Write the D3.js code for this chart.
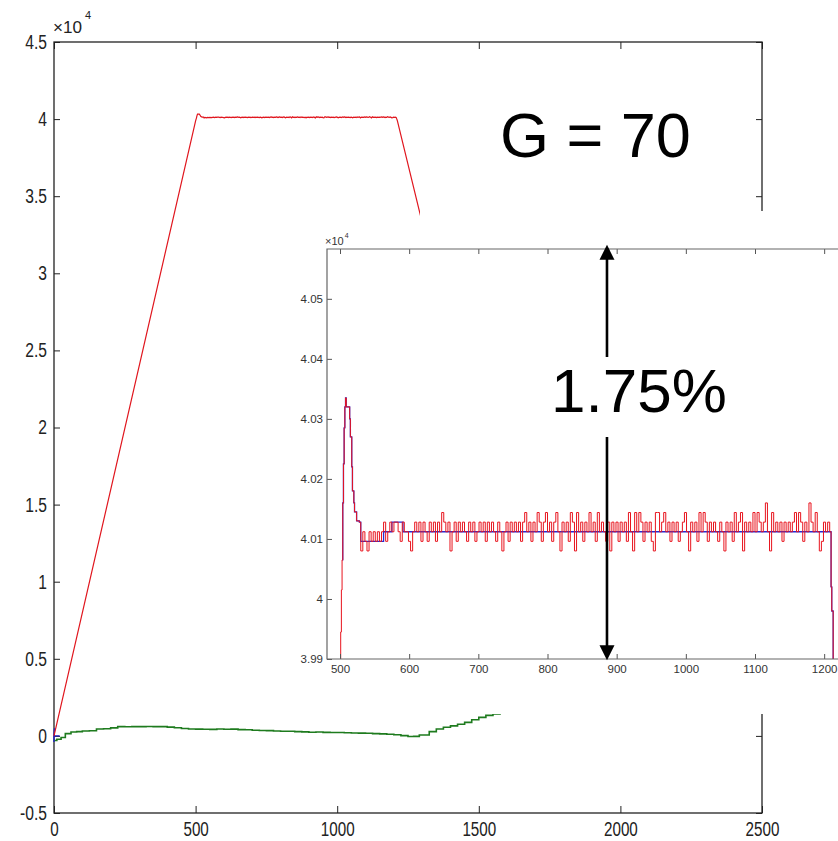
<!DOCTYPE html>
<meta charset="utf-8">
<style>
  body { margin: 0; background: #fff; }
  .lbl { font-family: "Liberation Sans", Arial, sans-serif; fill: #000; }
</style>
<svg width="838" height="841"></svg>
<script src="https://cdn.jsdelivr.net/npm/d3@7/dist/d3.min.js"></script>
<script>
// ---- data (raw values, axes show x10^4) ----
var xTicksMain = [0, 500, 1000, 1500, 2000, 2500];
var yTicksMain = [-5000, 0, 5000, 10000, 15000, 20000, 25000, 30000, 35000, 40000, 45000];
var xTicksInset = [500, 600, 700, 800, 900, 1000, 1100, 1200];
var yTicksInset = [39900, 40000, 40100, 40200, 40300, 40400, 40500];

// red: ramp, overshoot, then the noisy plateau, then the drop
var redRise = [[0, 0], [500, 39880], [501, 39945], [502, 40015], [503, 40065], [504, 40160],
  [505, 40225], [506, 40285], [507, 40320], [508, 40335], [509, 40320], [513, 40320],
  [514, 40300], [515, 40270], [517, 40220], [518, 40180], [520, 40160], [521, 40145],
  [524, 40130], [528, 40128]];
var redNoiseX = d3.range(530, 1209, 3);
var redNoise = [
  40080,40112,40096,40080,40112,40096,40112,40096,40112,40096,
  40112,40128,40096,40112,40128,40112,40128,40128,40112,40096,
  40128,40112,40112,40096,40080,40112,40128,40112,40128,40096,
  40128,40112,40096,40128,40112,40128,40096,40128,40112,40144,
  40128,40112,40128,40080,40112,40128,40096,40128,40112,40128,
  40112,40096,40128,40112,40128,40096,40112,40128,40112,40128,
  40096,40128,40112,40128,40112,40096,40128,40112,40080,40112,
  40128,40096,40128,40112,40128,40112,40128,40096,40128,40144,
  40112,40128,40096,40128,40112,40144,40128,40096,40128,40144,
  40112,40128,40096,40128,40144,40112,40080,40128,40112,40128,
  40096,40144,40128,40080,40144,40112,40128,40096,40128,40112,
  40144,40112,40128,40096,40144,40112,40128,40112,40096,40128,
  40080,40128,40112,40128,40096,40128,40112,40128,40096,40144,
  40112,40080,40144,40112,40144,40128,40096,40128,40112,40128,
  40096,40080,40144,40144,40112,40128,40144,40112,40128,40096,
  40128,40112,40128,40096,40112,40128,40144,40112,40080,40128,
  40112,40128,40096,40144,40112,40144,40128,40096,40128,40112,
  40128,40112,40096,40128,40112,40080,40128,40112,40128,40096,
  40144,40112,40128,40144,40080,40128,40112,40128,40112,40144,
  40112,40144,40128,40112,40128,40160,40112,40080,40144,40112,
  40128,40112,40128,40096,40128,40112,40128,40112,40128,40144,
  40112,40144,40128,40096,40128,40112,40160,40128,40112,40144,
  40112,40080,40096,40128,40112,40128,40112];
var redFall = [[1210, 40020], [1211, 39980], [1213, 39850], [1290, 34050], [1330, 31100]];

// blue (filtered value): follows the overshoot, then sits on the plateau
var blueInset = [[503, 40065], [504, 40160], [505, 40225], [506, 40285], [507, 40320],
  [508, 40335], [509, 40320], [513, 40320], [514, 40300], [515, 40270], [517, 40220],
  [518, 40180], [520, 40160], [521, 40145], [524, 40130], [528, 40128], [530, 40096],
  [562, 40096], [563, 40112], [574, 40112], [575, 40128], [590, 40128], [591, 40112],
  [1209, 40112], [1210, 40020], [1211, 39980], [1213, 39850]];
var blueMain = [[0, -400], [0, 0], [20, 0], [0, 0], [2, 500]];

var greenX = [0, 10, 25, 40, 60, 80, 100, 125, 150, 175, 200, 225, 250, 275, 300, 325, 350, 375,
  400, 425, 450, 475, 500, 525, 550, 575, 600, 625, 650, 675, 700, 725, 750, 775, 800, 825,
  850, 875, 900, 925, 950, 975, 1000, 1025, 1050, 1075, 1100, 1125, 1150, 1175, 1200, 1225,
  1250, 1270, 1290, 1325, 1350, 1375, 1400, 1425, 1450, 1475, 1500, 1525, 1550, 1575, 1600, 1650];
var greenY = [-300, -220, -100, 150, 250, 280, 320, 330, 450, 460, 520, 600, 590, 600, 600, 610,
  600, 600, 570, 530, 480, 450, 440, 430, 420, 450, 430, 440, 410, 400, 370, 350, 345, 320,
  300, 300, 280, 260, 240, 250, 230, 220, 220, 200, 190, 180, 170, 150, 130, 110, 70, 20,
  -40, -30, 60, 280, 450, 560, 650, 760, 880, 1050, 1200, 1330, 1420, 1500, 1560, 1650];

var redFlat = redNoiseX.map(function(x, i) { return [x, redNoise[i]]; });
var redAll = redRise.concat(redFlat, redFall);
var greenAll = greenX.map(function(x, i) { return [x, greenY[i]]; });

var svg = d3.select("svg");
svg.append("rect").attr("width", 838).attr("height", 841).attr("fill", "#fff");

// ---- main plot ----
var xM = d3.scaleLinear().domain([0, 2500]).range([54, 762]);
var yM = d3.scaleLinear().domain([-5000, 45000]).range([813, 42]);
var sans = "'Liberation Sans', Arial, sans-serif";

function styleAxis(g, size, col, txt, squeeze) {
  g.select(".domain").remove();
  g.attr("font-family", sans).attr("font-size", size);
  g.selectAll("line").attr("stroke", col);
  g.selectAll("text").attr("fill", txt).each(function() {
    var w = this.getComputedTextLength();
    if (squeeze < 1 && w > 0) {
      d3.select(this).attr("textLength", w * squeeze).attr("lengthAdjust", "spacingAndGlyphs");
    }
  });
}

var yfmt = function(v) { return String(+(v / 1e4).toFixed(2)); };
var xfmt = d3.format("d");

svg.append("g").attr("transform", "translate(0,813)")
  .call(d3.axisBottom(xM).tickValues(xTicksMain).tickSizeInner(-7).tickSizeOuter(0).tickPadding(9).tickFormat(xfmt))
  .call(styleAxis, 20, "#222", "#222", 0.76);
svg.append("g").attr("transform", "translate(0,42)")
  .call(d3.axisTop(xM).tickValues(xTicksMain).tickSizeInner(-7).tickSizeOuter(0).tickFormat(""))
  .call(styleAxis, 20, "#222", "#222", 1);
svg.append("g").attr("transform", "translate(54,0)")
  .call(d3.axisLeft(yM).tickValues(yTicksMain).tickSizeInner(-6).tickSizeOuter(0).tickPadding(7).tickFormat(yfmt))
  .call(styleAxis, 20, "#222", "#222", 0.78);
svg.append("g").attr("transform", "translate(762,0)")
  .call(d3.axisRight(yM).tickValues(yTicksMain).tickSizeInner(-6).tickSizeOuter(0).tickFormat(""))
  .call(styleAxis, 20, "#222", "#222", 1);

svg.append("rect").attr("x", xM(0)).attr("y", yM(45000))
  .attr("width", xM(2500) - xM(0)).attr("height", yM(-5000) - yM(45000))
  .attr("fill", "none").attr("stroke", "#222").attr("stroke-width", 1.3);

var mexp = svg.append("text").attr("x", 53).attr("y", 33)
  .attr("font-family", sans).attr("font-size", 17).attr("fill", "#222");
mexp.append("tspan").text("×10").attr("textLength", 29).attr("lengthAdjust", "spacingAndGlyphs");
mexp.append("tspan").attr("x", 85).attr("dy", -14).attr("font-size", 11).text("4");

var lineM = d3.line().x(function(d) { return xM(d[0]); }).y(function(d) { return yM(d[1]); });

svg.append("path").datum(greenAll).attr("d", lineM.curve(d3.curveStepAfter))
  .attr("fill", "none").attr("stroke", "#1e7b1e").attr("stroke-width", 1.6);
lineM.curve(d3.curveLinear);
svg.append("path").datum(blueMain).attr("d", lineM)
  .attr("fill", "none").attr("stroke", "#2222cc").attr("stroke-width", 1.4);
svg.append("path").datum(redAll).attr("d", lineM)
  .attr("fill", "none").attr("stroke", "#e0161e").attr("stroke-width", 1.2);

// white patches where the inset was pasted
svg.append("rect").attr("x", 420).attr("y", 211).attr("width", 418).attr("height", 503).attr("fill", "#fff");
svg.append("rect").attr("x", 292).attr("y", 226).attr("width", 546).attr("height", 458).attr("fill", "#fff");

// ---- inset ----
var xI = d3.scaleLinear().domain([481.2, 1220]).range([327, 838]);
var yI = d3.scaleLinear().domain([39900, 40583]).range([659, 249]);

svg.append("clipPath").attr("id", "clipI").append("rect")
  .attr("x", 327).attr("y", 249).attr("width", 511).attr("height", 410);

var lineI = d3.line().x(function(d) { return xI(d[0]); }).y(function(d) { return yI(d[1]); })
  .curve(d3.curveStepAfter);
var gI = svg.append("g").attr("clip-path", "url(#clipI)");
gI.append("path").datum(blueInset).attr("d", lineI)
  .attr("fill", "none").attr("stroke", "#2a2ad0").attr("stroke-width", 1.3);
gI.append("path").datum(redAll).attr("d", lineI)
  .attr("fill", "none").attr("stroke", "#e8141e").attr("stroke-width", 1);

svg.append("g").attr("transform", "translate(0,659)")
  .call(d3.axisBottom(xI).tickValues(xTicksInset).tickSizeInner(-5).tickSizeOuter(0).tickPadding(6).tickFormat(xfmt))
  .call(styleAxis, 11.5, "#555", "#333", 1);
svg.append("g").attr("transform", "translate(0,249)")
  .call(d3.axisTop(xI).tickValues(xTicksInset).tickSizeInner(-5).tickSizeOuter(0).tickFormat(""))
  .call(styleAxis, 11.5, "#555", "#333", 1);
svg.append("g").attr("transform", "translate(327,0)")
  .call(d3.axisLeft(yI).tickValues(yTicksInset).tickSizeInner(-5).tickSizeOuter(0).tickPadding(4).tickFormat(yfmt))
  .call(styleAxis, 11.5, "#555", "#333", 1);

svg.append("path")
  .attr("d", "M838,249H327V659H838")
  .attr("fill", "none").attr("stroke", "#666").attr("stroke-width", 1.2);

var iexp = svg.append("text").attr("x", 325).attr("y", 245)
  .attr("font-family", sans).attr("font-size", 11).attr("fill", "#333");
iexp.append("tspan").text("×10");
iexp.append("tspan").attr("dx", 1).attr("dy", -7).attr("font-size", 7).text("4");

// ---- annotations ----
var ax = xI(886), aTop = yI(40590), aBot = yI(39898);
svg.append("path").attr("d", "M" + ax + "," + (aTop + 14) + "V357M" + ax + ",437V" + (aBot - 14))
  .attr("stroke", "#000").attr("stroke-width", 2.6);
svg.append("path")
  .attr("d", "M" + ax + "," + aTop + "l-7.5,15h15z")
  .attr("fill", "#000");
svg.append("path")
  .attr("d", "M" + ax + "," + aBot + "l-7.5,-15h15z")
  .attr("fill", "#000");

svg.append("text").attr("class", "lbl").attr("x", 551).attr("y", 412)
  .attr("font-size", 62).text("1.75%");
svg.append("text").attr("class", "lbl").attr("x", 500).attr("y", 157)
  .attr("font-size", 63).text("G = 70");
</script>
